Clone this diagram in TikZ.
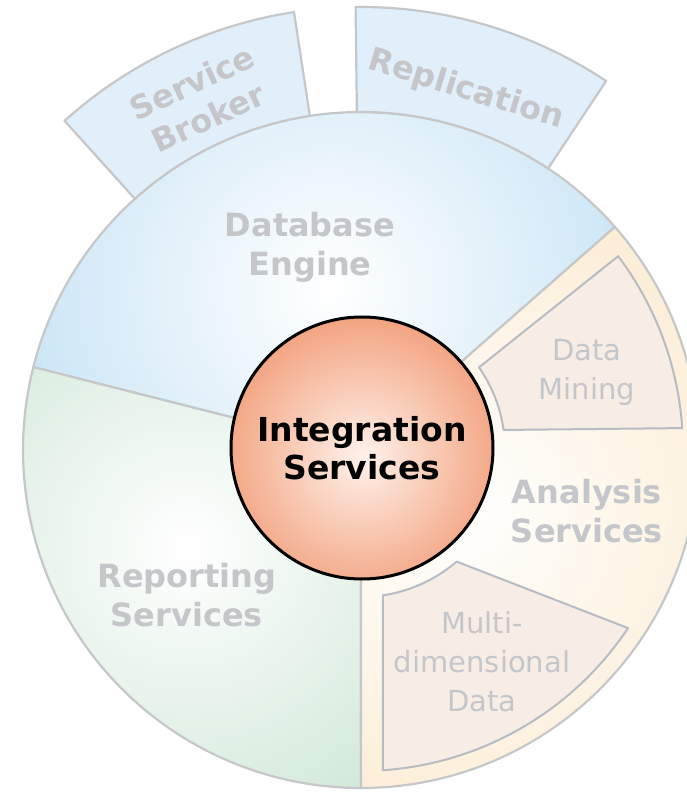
\documentclass[tikz,border=0pt]{standalone}
\usepackage{fontspec}
\setmainfont{DejaVu Sans}
\definecolor{dbblue}{RGB}{180,218,241}
\definecolor{rsgreen}{RGB}{208,232,216}
\definecolor{ascream}{RGB}{252,236,210}
\definecolor{tabblue}{RGB}{225,239,250}
\definecolor{subfill}{RGB}{247,237,229}
\definecolor{rimgray}{RGB}{197,199,201}
\definecolor{subgray}{RGB}{184,188,194}
\definecolor{labgray}{RGB}{196,198,202}
\definecolor{hubedge}{RGB}{237,128,80}
\definecolor{hubmid}{RGB}{255,242,235}

\begin{document}
\begin{tikzpicture}[x=1pt,y=1pt,
  rim/.style={draw=rimgray,line width=2.2pt,line join=round},
  tabbox/.style={rim,fill=tabblue},
  subbox/.style={draw=subgray,line width=2pt,line join=round,fill=subfill},
  biglabel/.style={text=labgray,font=\bfseries\fontsize{32}{39}\selectfont,align=center},
  smalllabel/.style={text=labgray,font=\fontsize{29}{39}\selectfont,align=center},
  hub/.style={circle,draw=black,line width=3pt,minimum size=262pt,inner sep=0pt,
    font=\bfseries\fontsize{33}{38}\selectfont,align=center,
    path picture={\shade[inner color=hubmid,outer color=hubedge]
      ([yshift=-9pt]path picture bounding box.center) circle (205);}}]
\useasboundingbox (-361,-342) rectangle (326,450);

\path[rim,path picture={\shade[inner color=white,outer color=dbblue] (-31,160) circle (450);}]
  (0,0) -- (41.3:338) arc[start angle=41.3,end angle=165.8,radius=338] -- cycle;
\path[rim,path picture={\shade[inner color=white,outer color=rsgreen] (-174,-97) circle (310);}]
  (0,0) -- (165.8:338) arc[start angle=165.8,end angle=270,radius=338] -- cycle;
\path[rim,path picture={\shade[inner color=white,outer color=ascream] (100,-60) circle (340);}]
  (0,0) -- (-90:338) arc[start angle=-90,end angle=41.3,radius=338] -- cycle;

\path[tabbox] (98.7:338) -- (98.7:443) arc[start angle=98.7,end angle=132,radius=443]
  -- (132:338) arc[start angle=132,end angle=98.7,radius=338] -- cycle;
\path[tabbox] (56.4:338) -- (56.4:443) arc[start angle=56.4,end angle=90.7,radius=443]
  -- (90.7:338) arc[start angle=90.7,end angle=56.4,radius=338] -- cycle;

\path[subbox] (37:322) -- (35:144) arc[start angle=35,end angle=8,radius=144]
  -- (3.9:322) arc[start angle=3.9,end angle=37,radius=322] -- cycle;
\path[subbox] (-81.4:147) arc[start angle=-81.4,end angle=-49.4,radius=147]
  -- (-33.7:321) arc[start angle=-33.7,end angle=-86.1,radius=321] -- cycle;

\node[hub] (is) at (1,2) {Integration\\Services};
\node[biglabel] (dbe) at (-51,203) {Database\\Engine};
\node[biglabel] (rs) at (-174,-145) {Reporting\\Services};
\node[biglabel] (as) at (226,-61) {Analysis\\Services};
\node[smalllabel] (dm) at (226,78) {Data\\Mining};
\node[smalllabel] (mdd) at (121,-212) {Multi-\\dimensional\\Data};
\node[biglabel,rotate=25] (sb) at (-161,350) {Service\\Broker};
\node[biglabel,rotate=-17] (rep) at (105,360) {Replication};
\end{tikzpicture}
\end{document}
